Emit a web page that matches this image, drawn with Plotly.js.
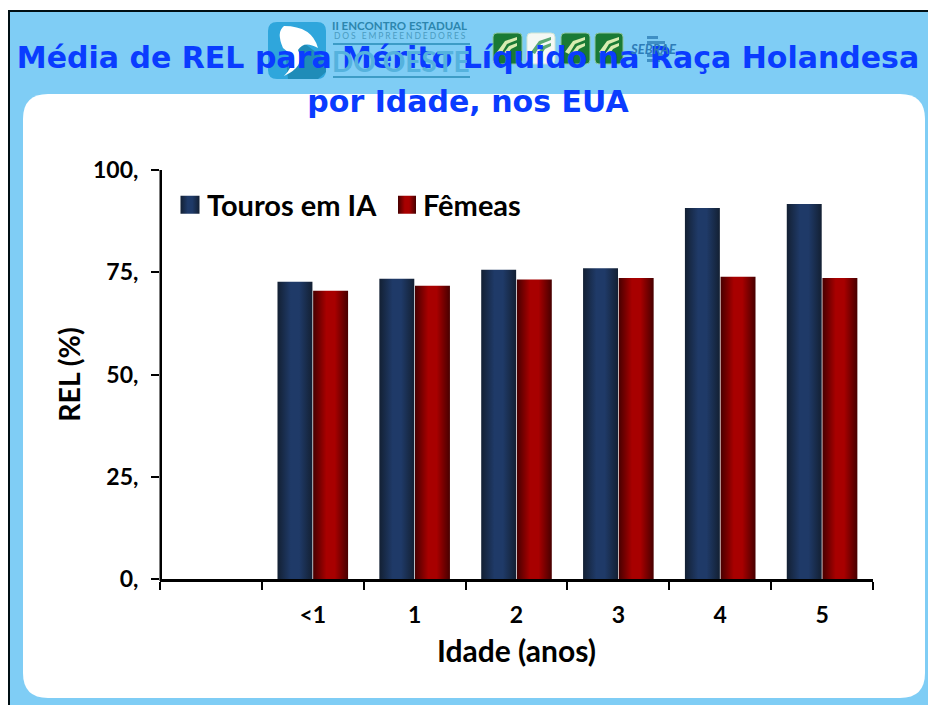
<!DOCTYPE html>
<html>
<head>
<meta charset="utf-8">
<script src="https://cdn.plot.ly/plotly-3.0.0.min.js"></script>
<style>html,body{margin:0;padding:0;background:#fff;overflow:hidden}</style>
</head>
<body>
<div id="chart" style="width:928px;height:705px"></div>
<script>
const categories = [" ", "<1", "1", "2", "3", "4", "5"];
const touros = [null, 72.7, 73.4, 75.6, 76.0, 90.7, 91.7];
const femeas = [null, 70.5, 71.7, 73.2, 73.6, 73.9, 73.6];
const yTickVals = [0, 25, 50, 75, 100];
const yTickText = ["0,", "25,", "50,", "75,", "100,"];

const L = 160, R = 873, T = 170, B = 579;
const X = p => (p - L) / (R - L);
const Y = p => (B - p) / (B - T);
const FONT = "Lato, 'Open Sans', sans-serif";

function rrPath(x0, y0, x1, y1, r) {
  const pt = (a, b) => X(a) + "," + Y(b);
  return "M" + pt(x0 + r, y0) + " L" + pt(x1 - r, y0) + " Q" + pt(x1, y0) + " " + pt(x1, y0 + r) +
    " L" + pt(x1, y1 - r) + " Q" + pt(x1, y1) + " " + pt(x1 - r, y1) +
    " L" + pt(x0 + r, y1) + " Q" + pt(x0, y1) + " " + pt(x0, y1 - r) +
    " L" + pt(x0, y0 + r) + " Q" + pt(x0, y0) + " " + pt(x0 + r, y0) + " Z";
}
function polyPath(list) {
  return "M" + list.map(p => X(p[0]) + "," + Y(p[1])).join(" L") + " Z";
}
function rect(x0, y0, x1, y1, fill, layer) {
  return {type: "rect", xref: "paper", yref: "paper", layer: layer || "below",
    x0: X(x0), x1: X(x1), y0: Y(y0), y1: Y(y1), fillcolor: fill, line: {width: 0}};
}
function path(d, fill, stroke) {
  return {type: "path", xref: "paper", yref: "paper", layer: "below", path: d,
    fillcolor: fill, line: stroke ? {color: stroke, width: 1} : {width: 0}};
}
function leaf(x, fill) {
  return [
    path(polyPath([[x + 4, 52], [x + 12, 41], [x + 24, 37], [x + 24, 40], [x + 14, 44], [x + 8, 54]]), fill),
    path(polyPath([[x + 10, 54], [x + 16, 46], [x + 24, 43], [x + 24, 46], [x + 18, 49], [x + 14, 55]]), fill)
  ];
}

const shapes = [
  rect(8, 10, 928, 705, "#000f14"),
  rect(10, 12, 928, 705, "#7fcdf5"),
  path(rrPath(268, 22, 326, 79, 9), "#2fa6dc"),
  path(polyPath([[300, 40], [326, 60], [326, 72], [318, 79], [288, 79], [286, 60]]), "#1f8cb8"),
  path("M" + X(284) + "," + Y(26) +
       " Q" + X(312) + "," + Y(26) + " " + X(318) + "," + Y(48) +
       " Q" + X(304) + "," + Y(40) + " " + X(298) + "," + Y(50) +
       " Q" + X(306) + "," + Y(66) + " " + X(284) + "," + Y(76) +
       " Q" + X(300) + "," + Y(60) + " " + X(283) + "," + Y(48) +
       " Q" + X(276) + "," + Y(32) + " " + X(284) + "," + Y(26) + " Z", "#ffffff"),
  rect(333, 43, 470, 45, "#3d9cc6"),
  rect(333, 76, 470, 78, "#3d9cc6"),
  path(rrPath(493, 33, 522, 64, 4), "#1a7a35", "#8cc6a0"),
  path(rrPath(527, 33, 555, 64, 4), "#f4f8f4", "#cfe4d4"),
  path(rrPath(561, 33, 590, 64, 4), "#1a7a35", "#8cc6a0"),
  path(rrPath(595, 33, 623, 64, 4), "#1a7a35", "#8cc6a0"),
  ...leaf(493, "#d8ecb0"), ...leaf(527, "#5aa874"), ...leaf(561, "#d8ecb0"), ...leaf(595, "#d8ecb0"),
  rect(647, 36, 658, 39, "#3f8fc4"),
  rect(647, 41, 665, 44, "#3f8fc4"),
  rect(647, 54, 665, 57, "#3f8fc4"),
  rect(647, 59, 660, 62, "#3f8fc4"),
  path(rrPath(23, 94, 925, 698, 25), "#ffffff"),
  rect(159.5, 170, 162, 581, "#000000", "above")
];

function note(text, x, y, size, color) {
  return {text: text, xref: "paper", yref: "paper", x: X(x), y: Y(y),
    showarrow: false, xanchor: "left", yanchor: "middle",
    font: {family: FONT, size: size, color: color}};
}
const annotations = [
  note("<b>II ENCONTRO ESTADUAL</b>", 330, 26, 11.5, "#2c86ae"),
  note("DOS EMPREENDEDORES", 330, 36, 8.5, "#4a9cc2"),
  note("<b>DO OESTE</b>", 330, 61, 28, "#55b2dd"),
  note("<b><i>SEBRAE</i></b>", 628, 49, 13, "#2d7cb8")
];

const traces = [
  {type: "bar", name: "Touros em IA", x: categories, y: touros, marker: {color: "#1f3a68", line: {width: 0}}},
  {type: "bar", name: "Fêmeas", x: categories, y: femeas, marker: {color: "#a80000", line: {width: 0}}}
];

const layout = {
  width: 928, height: 705,
  margin: {l: L, r: 928 - R, t: T, b: 705 - B, pad: 0},
  paper_bgcolor: "#ffffff", plot_bgcolor: "rgba(0,0,0,0)",
  barmode: "group", bargap: 0.30, bargroupgap: 0.02,
  showlegend: true,
  legend: {orientation: "h", x: X(167), y: Y(205), xanchor: "left", yanchor: "middle",
    bgcolor: "rgba(0,0,0,0)", font: {family: FONT, size: 29, color: "#000", weight: 700},
    itemclick: false, itemdoubleclick: false, entrywidthmode: "pixels", entrywidth: 171, traceorder: "normal"},
  title: {text: "<b>Média de REL para Mérito Líquido na Raça Holandesa<br>por Idade, nos EUA</b>",
    font: {family: "'DejaVu Sans', sans-serif", size: 30, color: "#0a3cff"},
    xref: "paper", x: X(468), xanchor: "center", yref: "container", y: 1 - 70 / 705, yanchor: "middle"},
  xaxis: {type: "category", categoryorder: "array", categoryarray: categories, tickson: "boundaries",
    range: [-0.5, 6.5], showline: true, linecolor: "#000", linewidth: 3, ticks: "outside", ticklen: 8,
    tickwidth: 2, tickcolor: "#000", showgrid: false, zeroline: false, ticklabelstandoff: 13,
    tickfont: {family: FONT, size: 23, color: "#000", weight: 700},
    title: {text: "<b>Idade (anos)</b>", standoff: 15, font: {family: FONT, size: 30, color: "#000"}}},
  yaxis: {range: [0, 100], tickvals: yTickVals, ticktext: yTickText, showline: false,
    ticks: "outside", ticklen: 8, tickwidth: 2, tickcolor: "#000", showgrid: false,
    zeroline: false, ticklabelstandoff: 8,
    tickfont: {family: FONT, size: 23, color: "#000", weight: 700},
    title: {text: "<b>REL (%)</b>", standoff: 4, font: {family: FONT, size: 28.5, color: "#000"}}},
  shapes: shapes, annotations: annotations
};

Plotly.newPlot("chart", traces, layout, {displayModeBar: false, responsive: false}).then(gd => {
  const svg = gd.querySelector("svg.main-svg");
  const NS = "http://www.w3.org/2000/svg";
  const defs = document.createElementNS(NS, "defs");
  function grad(id, stops) {
    const g = document.createElementNS(NS, "linearGradient");
    g.setAttribute("id", id); g.setAttribute("x1", "0"); g.setAttribute("x2", "1");
    g.setAttribute("y1", "0"); g.setAttribute("y2", "0");
    stops.forEach(s => {
      const st = document.createElementNS(NS, "stop");
      st.setAttribute("offset", s[0]); st.setAttribute("stop-color", s[1]);
      g.appendChild(st);
    });
    defs.appendChild(g);
  }
  grad("gBlue", [[0, "#132033"], [0.38, "#1f3a68"], [0.62, "#1f3a68"], [1, "#132033"]]);
  grad("gRed", [[0, "#470000"], [0.38, "#a80000"], [0.62, "#a80000"], [1, "#470000"]]);
  svg.insertBefore(defs, svg.firstChild);
  gd.querySelectorAll(".barlayer .trace").forEach((t, i) => {
    t.querySelectorAll("path").forEach(p => { p.style.fill = "url(#" + (i ? "gRed" : "gBlue") + ")"; });
  });
  gd.querySelectorAll(".legend .traces").forEach((t, i) => {
    t.querySelectorAll(".legendbar path, .legendundefined path, .legendpoints path").forEach(p => {
      p.style.fill = "url(#" + (i ? "gRed" : "gBlue") + ")";
      p.setAttribute("d", i ? "M13,9H-5V-9H13Z" : "M12.5,9H-6.5V-9H12.5Z");
    });
  });
  const lines = gd.querySelectorAll(".gtitle tspan.line");
  if (lines.length === 2) {
    lines[0].setAttribute("y", parseFloat(lines[0].getAttribute("y")) - 2);
    lines[1].setAttribute("y", parseFloat(lines[1].getAttribute("y")) + 3);
  }
  const sub = gd.querySelectorAll(".annotation-text")[1];
  if (sub) {
    const box = sub.getBBox();
    sub.setAttribute("text-anchor", "start");
    sub.setAttribute("x", box.x + 2);
    sub.style.letterSpacing = "1.9px";
  }
});
</script>
</body>
</html>
